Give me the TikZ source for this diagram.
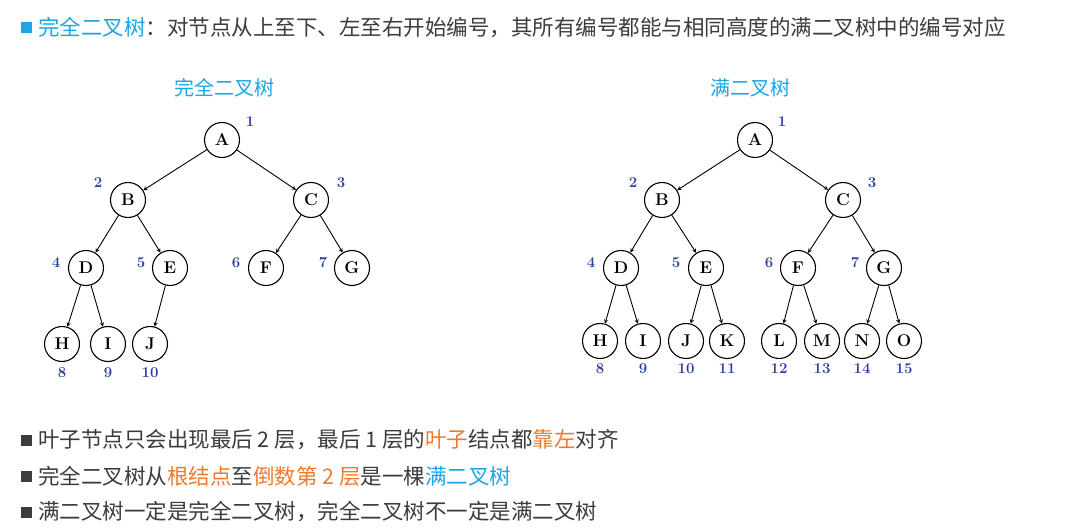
\documentclass[tikz,border=0pt]{standalone}
\usepackage{fontspec}
\newfontfamily\cjk{Noto Sans CJK SC}
\definecolor{cy}{HTML}{1AA6E8}
\definecolor{og}{HTML}{F07A2C}
\definecolor{gt}{HTML}{3C3C3C}
\definecolor{nb}{HTML}{2B3F9E}
\tikzset{
 tn/.style={circle,draw,line width=1.1pt,minimum size=35pt,inner sep=0pt,font=\fontsize{17}{17}\selectfont\bfseries},
 num/.style={text=nb,font=\fontsize{15}{15}\selectfont\bfseries},
 ed/.style={->,>=stealth,line width=0.9pt},
 ttl/.style={text=cy,font=\cjk\fontsize{20}{20}\selectfont},
 bl/.style={anchor=west,text=gt,font=\cjk\fontsize{21.5}{21.5}\selectfont,inner sep=0pt},
 sq/.style={minimum size=11pt,inner sep=0pt}
}
\begin{document}
\begin{tikzpicture}[x=1pt,y=-1pt]
\useasboundingbox[fill=white] (0,0) rectangle (1074,529);
% header
\node[sq,fill=cy] (s0) at (26,28) {};
\node[bl] (h) at (38,28) {\textcolor{cy}{完全二叉树}：对节点从上至下、左至右开始编号，其所有编号都能与相同高度的满二叉树中的编号对应};
\node[ttl] (t1) at (224,88) {完全二叉树};
\node[ttl] (t2) at (750,88) {满二叉树};
% left tree
\foreach \n/\x/\y in {A/222/140,B/128/200,C/311/200,D/86/268,E/170/268,F/266/268,G/352/268,H/62/344,I/108/344,J/150/344}
  \node[tn] (L\n) at (\x,\y) {\n};
\foreach \a/\b in {A/B,A/C,B/D,B/E,C/F,C/G,D/H,D/I,E/J}
  \draw[ed] (L\a) -- (L\b);
\foreach \t/\x/\y in {1/250/122,2/98/183,3/341/183,4/56/263,5/141/263,6/236/263,7/323/263,8/62/373,9/108/373,10/150/373}
  \node[num] (ln\t) at (\x,\y) {\t};
% right tree
\foreach \n/\x/\y in {A/755/140,B/662/200,C/843/200,D/621/268,E/706/268,F/798/268,G/884/268,H/600/341,I/643/341,J/686/341,K/727/341,L/779/341,M/822/341,N/862/341,O/904/341}
  \node[tn] (R\n) at (\x,\y) {\n};
\foreach \a/\b in {A/B,A/C,B/D,B/E,C/F,C/G,D/H,D/I,E/J,E/K,F/L,F/M,G/N,G/O}
  \draw[ed] (R\a) -- (R\b);
\foreach \t/\x/\y in {1/782/122,2/633/183,3/872/183,4/591/263,5/676/263,6/769/263,7/855/263,8/600/369,9/643/369,10/686/369,11/727/369,12/779/369,13/822/369,14/862/369,15/904/369}
  \node[num] (rn\t) at (\x,\y) {\t};
% bullets
\node[sq,fill=gt] (s1) at (26,440) {};
\node[bl] (b1) at (38,440) {叶子节点只会出现最后 2 层，最后 1 层的\textcolor{og}{叶子}结点都\textcolor{og}{靠左}对齐};
\node[sq,fill=gt] (s2) at (26,476) {};
\node[bl] (b2) at (38,476) {完全二叉树从\textcolor{og}{根结点}至\textcolor{og}{倒数第 2 层}是一棵\textcolor{cy}{满二叉树}};
\node[sq,fill=gt] (s3) at (26,512) {};
\node[bl] (b3) at (38,512) {满二叉树一定是完全二叉树，完全二叉树不一定是满二叉树};
\end{tikzpicture}
\end{document}
